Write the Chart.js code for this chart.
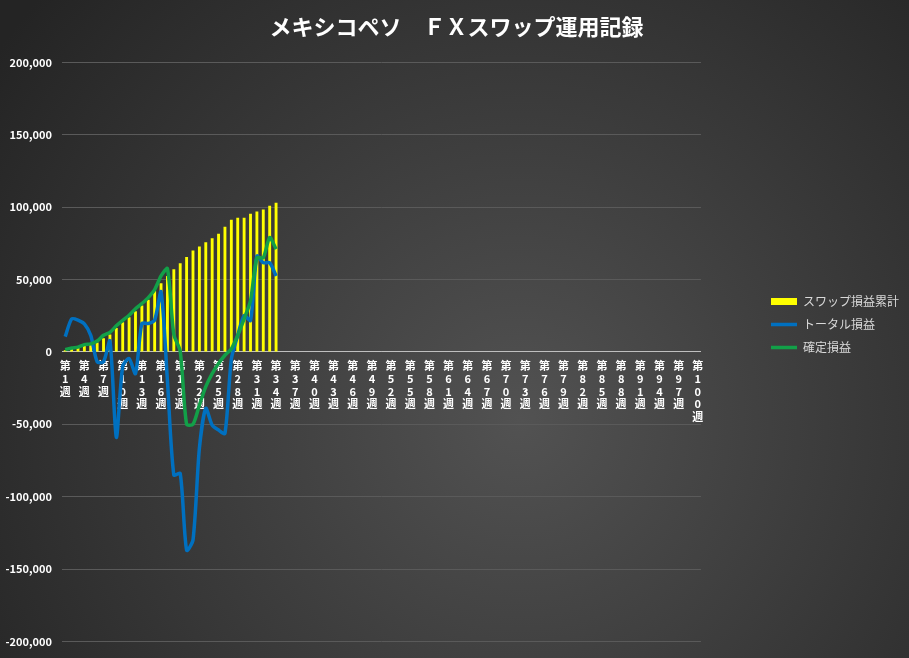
<!DOCTYPE html>
<html>
<head>
<meta charset="utf-8">
<script src="https://cdn.jsdelivr.net/npm/chart.js@4.4.1/dist/chart.umd.min.js"></script>
<style>
    html, body { margin: 0; padding: 0; background: #2a2a2a; }
    #wrap { width: 909px; height: 658px; }
</style>
</head>
<body>
<div id="wrap"><canvas id="swapChart" width="909" height="658"></canvas></div>
<script>
// 第1週 ... 第100週
const weekLabels = [];
for (let w = 1; w <= 100; w++) weekLabels.push("第" + w + "週");

// スワップ損益累計 (bars), weeks 1-34
const swapTotal = [
    1200, 2200, 2800, 4200, 5000, 6500, 9500, 12000, 16500, 20500,
    24000, 28000, 32000, 36000, 42000, 47500, 52500, 57100, 61200, 65500,
    70100, 72800, 75800, 78500, 81700, 86500, 91300, 92700, 92700, 95400,
    97000, 98400, 100900, 103000
];

// トータル損益
const totalPL = [
    10500, 22700, 22000, 19300, 11400, -6800, -6800, 7500, -59000, -10000,
    -4600, -15000, 19600, 19600, 21900, 41500, -20000, -85000, -84000, -137000,
    -130000, -66700, -39000, -50600, -54000, -56300, -5000, 11400, 25100, 21700,
    66200, 61600, 61600, 52500
];

// 確定損益
const realizedPL = [
    1600, 2700, 3300, 5000, 5500, 7500, 11500, 13500, 18000, 21800,
    25300, 29800, 33400, 37500, 43000, 52500, 57500, 12000, 500, -50000,
    -50000, -36800, -24000, -15000, -8000, -2300, 2000, 11400, 22800, 35400,
    65000, 65000, 79000, 71000
];

const yTicks = [-200000, -150000, -100000, -50000, 0, 50000, 100000, 150000, 200000];

const jpFont = "'Noto Sans CJK JP', 'Noto Sans', sans-serif";

// dark radial background like the Excel chart style
const bgPlugin = {
    id: "bgGradient",
    beforeDraw(chart) {
        const ctx = chart.ctx;
        const g = ctx.createRadialGradient(520, 420, 0, 520, 420, 640);
        g.addColorStop(0, "#525252");
        g.addColorStop(1, "#242424");
        ctx.save();
        ctx.fillStyle = g;
        ctx.fillRect(0, 0, chart.width, chart.height);
        ctx.restore();
    },
};

new Chart(document.getElementById("swapChart"), {
    data: {
        labels: weekLabels,
        datasets: [
            {
                type: "line",
                label: "トータル損益",
                data: totalPL,
                borderColor: "#0070C0",
                backgroundColor: "#0070C0",
                borderWidth: 3.5,
                pointRadius: 0,
                pointStyle: "line",
                tension: 0.25,
                order: 1,
            },
            {
                type: "line",
                label: "確定損益",
                data: realizedPL,
                borderColor: "#12A048",
                backgroundColor: "#12A048",
                borderWidth: 3.5,
                pointRadius: 0,
                pointStyle: "line",
                tension: 0.25,
                order: 0,
            },
            {
                type: "bar",
                label: "スワップ損益累計",
                data: swapTotal,
                backgroundColor: "#FFFF00",
                borderWidth: 0,
                pointStyle: "rect",
                categoryPercentage: 0.9,
                barPercentage: 0.5,
                order: 2,
            },
        ],
    },
    options: {
        responsive: false,
        animation: false,
        layout: {
            padding: { left: 4, right: 0, top: 0, bottom: 9 },
        },
        plugins: {
            title: {
                display: true,
                text: "メキシコペソ　ＦＸスワップ運用記録",
                color: "#ffffff",
                font: { family: jpFont, size: 22, weight: "bold" },
                padding: { top: 13, bottom: 23 },
            },
            legend: {
                position: "right",
                labels: {
                    color: "#d9d9d9",
                    font: { family: jpFont, size: 12 },
                    usePointStyle: true,
                    pointStyleWidth: 26,
                    boxHeight: 7,
                    padding: 11,
                    sort: (a, b) => {
                        const rank = { "スワップ損益累計": 0, "トータル損益": 1, "確定損益": 2 };
                        return rank[a.text] - rank[b.text];
                    },
                },
            },
            tooltip: { enabled: false },
        },
        scales: {
            x: {
                type: "category",
                position: { y: 0 },
                grid: { display: false },
                border: { display: true, color: "#bfbfbf", width: 1 },
                ticks: {
                    color: "#ffffff",
                    font: { family: jpFont, size: 11, weight: "bold", lineHeight: 1.15 },
                    autoSkip: false,
                    maxRotation: 0,
                    minRotation: 0,
                    padding: 0,
                    callback: function (value, index) {
                        if (index % 3 !== 0) return "";
                        return weekLabels[index].split("");
                    },
                },
                afterFit: (s) => { s.height = 0; },
            },
            y: {
                min: yTicks[0],
                max: yTicks[yTicks.length - 1],
                afterBuildTicks: (s) => { s.ticks = yTicks.map((v) => ({ value: v })); },
                afterFit: (s) => { s.width = 58; },
                grid: {
                    color: (c) => (c.tick && c.tick.value === 0 ? "#bfbfbf" : "#5a5a5a"),
                    lineWidth: 1,
                    drawTicks: false,
                },
                border: { display: false },
                ticks: {
                    color: "#ffffff",
                    font: { family: jpFont, size: 11, weight: "bold" },
                    padding: 10,
                    callback: (v) => v.toLocaleString("en-US"),
                },
            },
            gap: {
                type: "linear",
                position: "right",
                display: true,
                grid: { display: false },
                border: { display: false },
                ticks: { display: false },
                afterFit: (s) => { s.width = 59; },
            },
        },
    },
    plugins: [bgPlugin],
});
</script>
</body>
</html>
